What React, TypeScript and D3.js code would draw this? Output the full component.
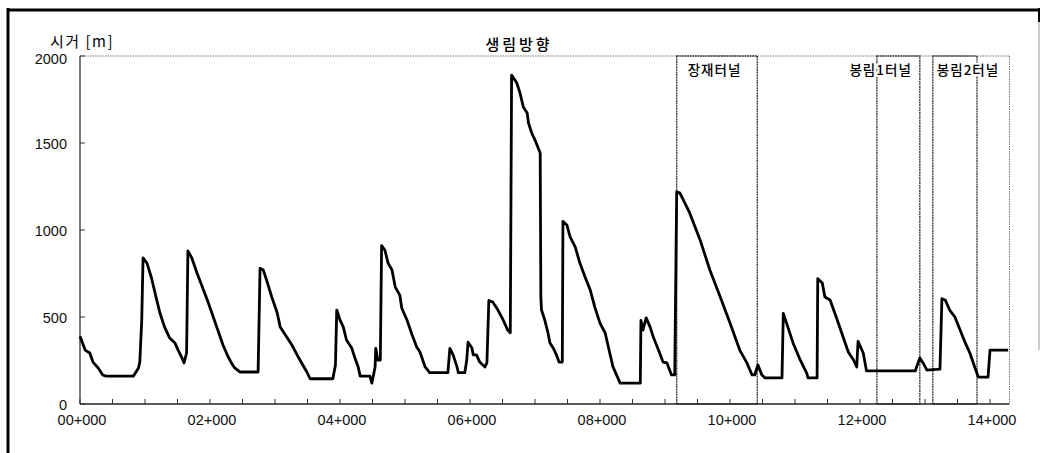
import React from "react";
import * as d3 from "d3";

const stationKm: number[] = [
  0.0, 0.08, 0.15, 0.2, 0.28, 0.35, 0.4, 0.82, 0.9, 0.92, 0.95, 0.97, 1.03, 1.1, 1.18, 1.23, 1.3, 1.38, 1.46, 1.51,
  1.57, 1.6, 1.64, 1.66, 1.72, 1.8, 1.9, 1.97, 2.05, 2.12, 2.2, 2.28, 2.33, 2.38, 2.46, 2.74, 2.77, 2.82, 2.88, 2.95,
  3.03, 3.08, 3.18, 3.26, 3.34, 3.41, 3.49, 3.54, 3.89, 3.93, 3.95, 4.0, 4.05, 4.1, 4.18, 4.23, 4.28, 4.31, 4.46, 4.49,
  4.54, 4.55, 4.58, 4.62, 4.64, 4.69, 4.74, 4.8, 4.85, 4.92, 4.95, 5.03, 5.11, 5.18, 5.23, 5.31, 5.38, 5.66, 5.69, 5.74,
  5.8, 5.82, 5.92, 5.95, 5.97, 6.03, 6.05, 6.1, 6.15, 6.23, 6.26, 6.29, 6.35, 6.43, 6.51, 6.58, 6.62, 6.64, 6.72, 6.77,
  6.82, 6.88, 6.9, 6.95, 7.0, 7.08, 7.09, 7.1, 7.15, 7.2, 7.23, 7.28, 7.33, 7.37, 7.42, 7.43, 7.49, 7.54, 7.62, 7.69,
  7.77, 7.85, 7.92, 8.0, 8.08, 8.15, 8.2, 8.31, 8.62, 8.63, 8.66, 8.71, 8.77, 8.82, 8.9, 8.97, 9.03, 9.1, 9.15, 9.18,
  9.23, 9.38, 9.54, 9.69, 9.85, 10.0, 10.15, 10.26, 10.34, 10.38, 10.43, 10.49, 10.54, 10.8, 10.82, 10.87, 10.97, 11.08, 11.18, 11.2,
  11.34, 11.35, 11.42, 11.46, 11.54, 11.65, 11.74, 11.82, 11.9, 11.95, 11.97, 12.03, 12.05, 12.1, 12.85, 12.92, 12.97, 13.03, 13.23, 13.26,
  13.31, 13.38, 13.46, 13.54, 13.62, 13.69, 13.77, 13.82, 13.97, 14.0, 14.28,
];

const sightDistance: number[] = [
  390, 310, 293, 241, 207, 167, 160, 160, 207, 241, 483, 840, 810, 724, 598, 523, 443, 379, 351, 310,
  264, 236, 293, 880, 839, 753, 655, 586, 500, 425, 339, 270, 236, 207, 184, 184, 780, 770, 701, 615,
  529, 443, 385, 339, 282, 236, 184, 145, 145, 224, 540, 483, 443, 368, 322, 264, 213, 160, 160, 120,
  213, 320, 253, 253, 910, 885, 810, 770, 672, 626, 552, 483, 397, 328, 299, 213, 180, 180, 320, 282,
  213, 180, 180, 253, 355, 322, 282, 282, 241, 213, 236, 595, 586, 540, 483, 425, 410, 1890, 1845, 1787,
  1707, 1672, 1615, 1557, 1517, 1443, 615, 540, 483, 408, 351, 322, 282, 241, 241, 1050, 1029, 960, 902, 810,
  730, 655, 557, 465, 408, 293, 213, 120, 120, 480, 425, 495, 443, 385, 310, 241, 236, 167, 167, 1220,
  1212, 1098, 943, 770, 615, 465, 310, 236, 167, 167, 224, 167, 150, 150, 520, 465, 351, 253, 178, 150,
  150, 720, 695, 615, 598, 483, 385, 299, 253, 213, 360, 310, 293, 190, 190, 265, 236, 195, 200, 605,
  598, 540, 500, 425, 351, 293, 207, 155, 155, 310, 310,
];

const tunnelNames: string[] = ["장재터널", "봉림1터널", "봉림2터널"];
const tunnelStart: number[] = [9.18, 12.26, 13.12];
const tunnelEnd: number[] = [10.42, 12.92, 13.8];

const yTicks: number[] = [0, 500, 1000, 1500, 2000];
const xLabelKm: number[] = [0, 2, 4, 6, 8, 10, 12, 14];
const xLabels: string[] = ["00+000", "02+000", "04+000", "06+000", "08+000", "10+000", "12+000", "14+000"];

const W = 1040;
const H = 453;
const L = 80;
const R = 1009.5;
const T = 56;
const B = 404;

export default function App() {
  const x = d3.scaleLinear().domain([0, 14.3]).range([L, R]);
  const y = d3.scaleLinear().domain([0, 2000]).range([B, T]);
  const pts: [number, number][] = stationKm.map((k, i) => [k, sightDistance[i]]);
  const line = d3
    .line<[number, number]>()
    .x((d) => x(d[0]))
    .y((d) => y(d[1]));
  const minorTicks = d3.range(0, 14.3, 0.5);
  const numFont = "'Liberation Sans', Arial, sans-serif";
  const krFont = "'Noto Sans CJK KR', sans-serif";
  const labelAnchor: ("start" | "end")[] = ["start", "end", "start"];
  const labelX: number[] = [x(tunnelStart[0]) + 11, x(tunnelEnd[1]) - 8, x(tunnelStart[2]) + 4];

  return (
    <svg
      width={W}
      height={H}
      style={{ position: "absolute", left: 0, top: 0, background: "#fff" }}
    >
      <rect x={0} y={0} width={W} height={H} fill="#fff" />
      {/* outer frame */}
      <line x1={8} y1={8} x2={8} y2={H} stroke="#000" strokeWidth={3} />
      <line x1={7} y1={10} x2={1039} y2={10} stroke="#000" strokeWidth={3} />
      <line x1={1039} y1={8} x2={1039} y2={22} stroke="#000" strokeWidth={2} />
      <line x1={1039} y1={22} x2={1039} y2={350} stroke="#999" strokeWidth={1} />

      {/* plot borders */}
      <line x1={L} y1={T} x2={R} y2={T} stroke="#777" strokeWidth={1} strokeDasharray="1.5 1" />
      <line x1={R} y1={T} x2={R} y2={B} stroke="#777" strokeWidth={1} strokeDasharray="1.5 1" />

      {/* tunnel boxes */}
      {tunnelNames.map((n, i) => (
        <g key={n}>
          <rect
            x={x(tunnelStart[i])}
            y={T}
            width={x(tunnelEnd[i]) - x(tunnelStart[i])}
            height={B - T}
            fill="none"
            stroke="#444"
            strokeWidth={1.4}
            strokeDasharray="2 0.6"
          />
        </g>
      ))}

      {/* axes */}
      <line x1={L} y1={T} x2={L} y2={B} stroke="#333" strokeWidth={1.3} />
      <line x1={L} y1={B} x2={R} y2={B} stroke="#222" strokeWidth={1.5} />
      {yTicks.map((t) => (
        <g key={t}>
          <line x1={L} y1={y(t)} x2={L + 5} y2={y(t)} stroke="#333" strokeWidth={1} />
          <text
            x={67}
            y={y(t) + (t === 2000 ? 3 : 1)}
            textAnchor="end"
            dominantBaseline="central"
            fontFamily={numFont}
            fontSize={14.5}
            fill="#111"
          >
            {t}
          </text>
        </g>
      ))}
      {minorTicks.map((k) => (
        <line key={k} x1={x(k)} y1={B} x2={x(k)} y2={B - 5} stroke="#333" strokeWidth={1} />
      ))}
      {xLabelKm.map((k, i) => (
        <text
          key={k}
          x={x(k) + 2}
          y={425}
          textAnchor="middle"
          fontFamily={numFont}
          fontSize={14.5}
          fill="#111"
        >
          {xLabels[i]}
        </text>
      ))}

      {/* data line */}
      <path d={line(pts) || ""} fill="none" stroke="#000" strokeWidth={2.8} strokeLinejoin="round" />

      {/* tunnel labels */}
      {tunnelNames.map((n, i) => (
        <text
          key={n}
          x={labelX[i]}
          y={75}
          textAnchor={labelAnchor[i]}
          fontFamily={krFont}
          fontSize={13.5}
          fontWeight={500}
          fill="#000"
          stroke="#fff"
          strokeWidth={4}
          paintOrder="stroke"
          style={{ letterSpacing: "1px" }}
        >
          {n}
        </text>
      ))}

      {/* titles */}
      <text
        x={519}
        y={50}
        textAnchor="middle"
        fontFamily={krFont}
        fontSize={15}
        fontWeight={500}
        fill="#000"
        style={{ letterSpacing: "3px" }}
      >
        생림방향
      </text>
      <text
        x={50}
        y={47}
        textAnchor="start"
        fontFamily={krFont}
        fontSize={15}
        fill="#000"
        style={{ letterSpacing: "1.5px" }}
      >
        시거 [m]
      </text>
    </svg>
  );
}
